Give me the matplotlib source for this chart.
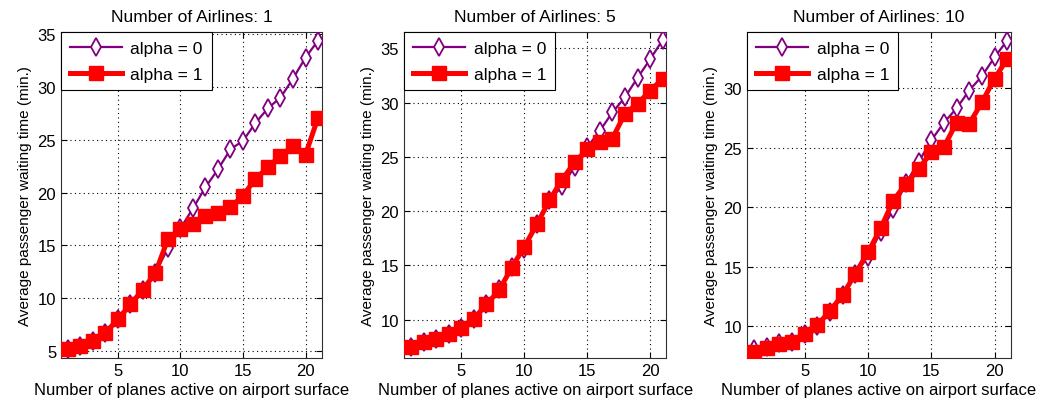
import matplotlib
matplotlib.use("Agg")
import matplotlib.pyplot as plt

plt.rcParams["font.family"] = ["Liberation Sans", "DejaVu Sans"]
plt.rcParams["font.size"] = 11

planes = list(range(1, 22))
airlines = [1, 5, 10]

# alpha = 0 series per panel
alpha0_1 = [5.2, 5.5, 5.9, 6.7, 8.0, 9.4, 10.8, 12.4, 14.7, 16.6, 18.5,
            20.5, 22.2, 24.1, 24.9, 26.6, 28.0, 29.0, 30.8, 32.8, 34.4]
alpha0_5 = [7.5, 7.9, 8.2, 8.7, 9.2, 10.1, 11.4, 12.8, 14.9, 16.5, 18.8,
            21.0, 22.3, 24.1, 25.9, 27.4, 29.1, 30.5, 32.3, 34.0, 35.8]
alpha0_10 = [8.1, 8.2, 8.6, 8.7, 9.3, 10.0, 11.2, 12.6, 14.4, 15.8, 17.9,
             19.8, 22.0, 23.8, 25.6, 27.1, 28.3, 29.8, 31.0, 32.6, 34.0]

# alpha = 1 series per panel
alpha1_1 = [5.2, 5.5, 5.9, 6.7, 8.0, 9.4, 10.8, 12.4, 15.6, 16.5, 17.0,
            17.8, 18.1, 18.6, 19.7, 21.3, 22.4, 23.5, 24.4, 23.6, 27.1]
alpha1_5 = [7.5, 7.9, 8.2, 8.7, 9.2, 10.1, 11.4, 12.7, 14.8, 16.7, 18.8,
            21.0, 22.9, 24.5, 25.7, 26.4, 26.7, 29.0, 29.9, 31.1, 32.2]
alpha1_10 = [7.8, 8.15, 8.5, 8.65, 9.35, 10.05, 11.3, 12.6, 14.4, 16.2, 18.2,
             20.55, 21.95, 23.2, 24.6, 25.05, 27.1, 27.0, 28.8, 30.8, 32.45]

alpha0 = [alpha0_1, alpha0_5, alpha0_10]
alpha1 = [alpha1_1, alpha1_5, alpha1_10]

ylims = [(4.3, 35.2), (6.45, 36.5), (7.3, 34.7)]
yticks = [[5, 10, 15, 20, 25, 30, 35], [10, 15, 20, 25, 30, 35], [10, 15, 20, 25, 30]]
positions = [
    [0.0585, 0.124, 0.250, 0.795],
    [0.3874, 0.124, 0.2516, 0.795],
    [0.7163, 0.124, 0.253, 0.795],
]

fig = plt.figure(figsize=(10.43, 4.10), dpi=100)

for i, n in enumerate(airlines):
    ax = fig.add_axes(positions[i])
    ax.plot(planes, alpha0[i], color="#800080", lw=1.6, marker="d",
            ms=9, mfc="white", mec="#800080", mew=1.3, label="alpha = 0",
            zorder=3)
    ax.plot(planes, alpha1[i], color="red", lw=3.6, marker="s",
            ms=10, mfc="red", mec="red", label="alpha = 1", zorder=4)
    ax.set_xlim(0.45, 21.3)
    ax.set_ylim(*ylims[i])
    ax.set_xticks([5, 10, 15, 20])
    ax.set_yticks(yticks[i])
    ax.grid(True, color="black", linestyle=(0, (1, 3)), linewidth=0.8)
    ax.tick_params(direction="in", top=True, right=True, length=4,
                   labelsize=12)
    for s in ax.spines.values():
        s.set_color("#303030")
    ax.set_title(f"Number of Airlines: {n}", fontsize=12.5, pad=8)
    ax.set_xlabel("Number of planes active on airport surface", fontsize=12,
                  labelpad=3)
    ax.set_ylabel("Average passenger waiting time (min.)", fontsize=11,
                  labelpad=4)
    leg = ax.legend(loc="upper left", fontsize=12.5, borderaxespad=0,
                    handlelength=3.0, handletextpad=0.5, fancybox=False,
                    framealpha=1, edgecolor="black", borderpad=0.5,
                    labelspacing=0.6)
    leg.get_frame().set_linewidth(0.8)

fig.savefig("out.png", dpi=100)
